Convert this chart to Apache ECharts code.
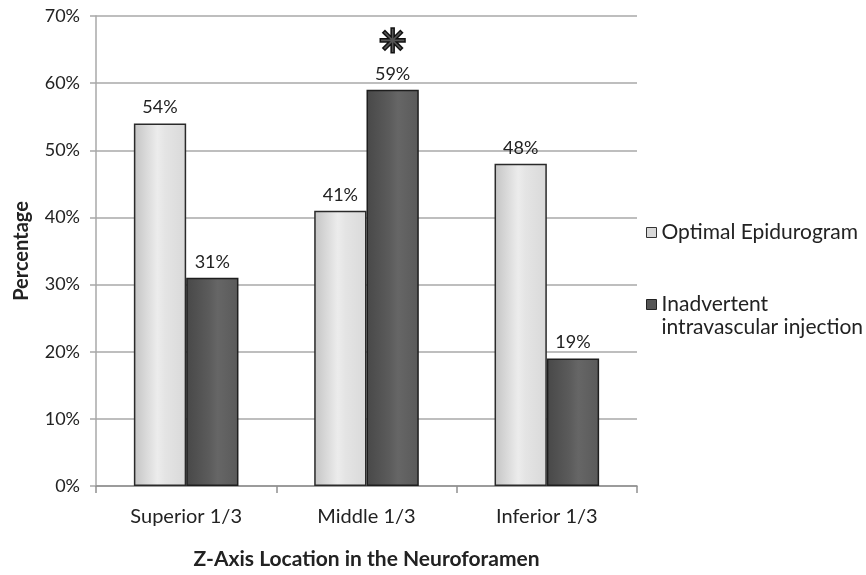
<!DOCTYPE html>
<html><head><meta charset="utf-8">
<script src="https://cdn.jsdelivr.net/npm/echarts@6/dist/echarts.min.js"></script>
<style>html,body{margin:0;padding:0;background:#fff}#c{width:866px;height:575px}</style>
</head><body><div id="c"></div>
<script>
const categories = ['Superior 1/3', 'Middle 1/3', 'Inferior 1/3'];
const optimal = [54, 41, 48];
const intravascular = [31, 59, 19];
const yTicks = [0, 10, 20, 30, 40, 50, 60, 70];
const seriesNames = ['Optimal Epidurogram', 'Inadvertent intravascular injection'];
const significant = [false, true, false];

const FONT = 'Lato';
const lightGrad = new echarts.graphic.LinearGradient(0, 0, 1, 0, [
  {offset: 0, color: '#c4c4c4'}, {offset: 0.45, color: '#ececec'}, {offset: 0.6, color: '#e4e4e4'}, {offset: 1, color: '#d9d9d9'}]);
const darkGrad = new echarts.graphic.LinearGradient(0, 0, 1, 0, [
  {offset: 0, color: '#484848'}, {offset: 0.45, color: '#5c5c5c'}, {offset: 0.6, color: '#666'}, {offset: 1, color: '#5a5a5a'}]);

const chart = echarts.init(document.getElementById('c'), null, {renderer: 'canvas'});
chart.setOption({
  animation: false,
  textStyle: {fontFamily: FONT},
  grid: {left: 96, right: 229, top: 16, bottom: 82},
  legend: {
    orient: 'vertical', left: 641, top: 216, itemGap: 26, itemTextGap: 5,
    icon: 'rect', itemWidth: 10, itemHeight: 10,
    textStyle: {fontFamily: FONT, fontSize: 21, color: '#222', lineHeight: 23},
    formatter: n => n === seriesNames[1] ? '\nInadvertent\nintravascular injection' : n,
    data: [
      {name: seriesNames[0], itemStyle: {color: '#d8d8d8', borderColor: '#333', borderWidth: 1}},
      {name: seriesNames[1], itemStyle: {color: '#555', borderColor: '#222', borderWidth: 1}}
    ]
  },
  xAxis: {
    type: 'category', data: categories,
    name: 'Z-Axis Location in the Neuroforamen', nameLocation: 'middle', nameGap: 63,
    nameTextStyle: {fontFamily: FONT, fontWeight: 'bold', fontSize: 21, color: '#222'},
    axisLine: {lineStyle: {color: '#909090', width: 1.5}},
    axisTick: {show: true, length: 7, lineStyle: {color: '#909090', width: 1.5}},
    axisLabel: {fontFamily: FONT, fontSize: 20, color: '#222', margin: 21}
  },
  yAxis: {
    type: 'value', min: 0, max: 70, interval: 10,
    name: 'Percentage', nameLocation: 'middle', nameGap: 64,
    nameTextStyle: {fontFamily: FONT, fontWeight: 'bold', fontSize: 20, color: '#222'},
    axisLine: {show: true, lineStyle: {color: '#a8a8a8', width: 1.5}},
    axisTick: {show: true, length: 6, lineStyle: {color: '#a8a8a8', width: 1.5}},
    splitLine: {lineStyle: {color: '#a8a8a8', width: 1.5}},
    axisLabel: {fontFamily: FONT, fontSize: 18, color: '#222', margin: 16,
      formatter: v => yTicks.includes(v) ? v + '%' : ''}
  },
  series: [
    {
      name: seriesNames[0], type: 'bar', data: optimal,
      barGap: '0%', barCategoryGap: '42%',
      itemStyle: {color: lightGrad, borderColor: '#2a2a2a', borderWidth: 1.5},
      label: {show: true, position: 'top', distance: 7, fontFamily: FONT, fontSize: 18, color: '#222', formatter: p => p.value + '%'}
    },
    {
      name: seriesNames[1], type: 'bar', data: intravascular,
      itemStyle: {color: darkGrad, borderColor: '#1e1e1e', borderWidth: 1.5},
      label: {show: true, position: 'top', distance: 7, fontFamily: FONT, fontSize: 18, color: '#222',
        formatter: p => significant[p.dataIndex] ? '{star|✳}\n' + p.value + '%' : p.value + '%',
        rich: {star: {fontFamily: 'DejaVu Sans', fontSize: 32, color: '#555', textBorderColor: '#111', textBorderWidth: 3, lineHeight: 42}}
      }
    }
  ]
});
</script></body></html>
